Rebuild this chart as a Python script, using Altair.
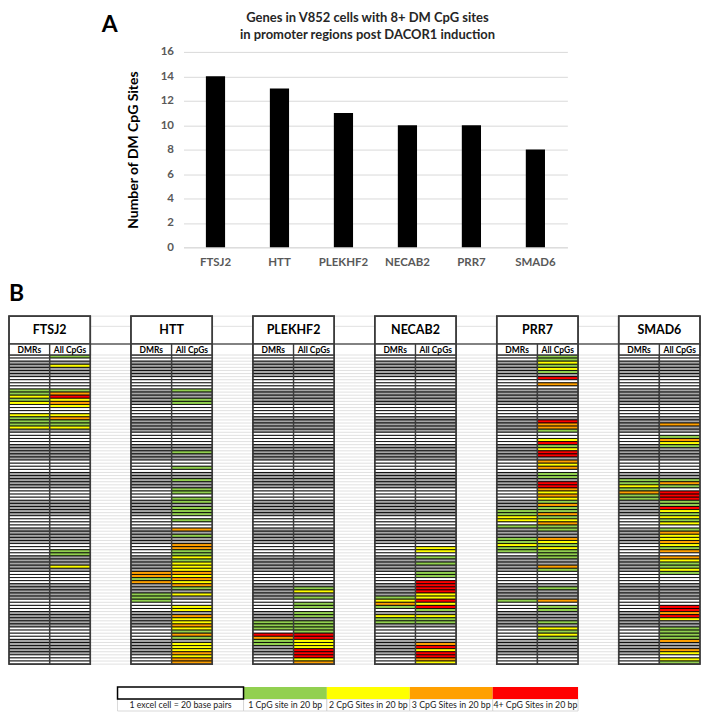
import altair as alt
import pandas as pd

FONT = "Lato"

# ---------------- Panel A data ----------------
genes = ["FTSJ2", "HTT", "PLEKHF2", "NECAB2", "PRR7", "SMAD6"]
dm_cpg_counts = [14, 13, 11, 10, 10, 8]
y_tick_values = [0, 2, 4, 6, 8, 10, 12, 14, 16]
title_lines = ["Genes in V852 cells with 8+ DM CpG sites",
               "in promoter regions post DACOR1 induction"]
y_title = "Number of DM CpG Sites"

# ---------------- Panel B data ----------------
n_rows = 100                      # 1 excel cell = 20 bp
column_labels = ["DMRs", "All CpGs"]
# rows shaded grey in the spreadsheet, [start, end)
grey_blocks = [(2, 7), (11, 16), (20, 25), (29, 34), (38, 43), (47, 52),
               (56, 61), (65, 70), (74, 79), (83, 88), (92, 97)]
# CpG sites per 20-bp cell (1, 2, 3, 4+) ; row -> level
cells_dmr = {
    "FTSJ2": {11: 1, 12: 1, 13: 2, 14: 1, 15: 2, 19: 2, 20: 1, 21: 1, 22: 1, 23: 2},
    "HTT": {70: 3, 71: 3, 72: 1, 73: 3, 77: 1, 78: 1, 79: 1},
    "PLEKHF2": {86: 1, 87: 1, 88: 1, 90: 4, 91: 3, 92: 1, 93: 1},
    "NECAB2": {78: 1, 79: 2, 80: 3, 81: 1, 84: 2, 85: 1, 86: 1},
    "PRR7": {50: 1, 51: 1, 52: 2, 53: 2, 55: 1, 59: 1, 60: 1, 61: 2, 62: 1, 63: 1, 79: 1},
    "SMAD6": {40: 1, 41: 1, 42: 2, 43: 1, 44: 3, 45: 1, 46: 1},
}
cells_all = {
    "FTSJ2": {0: 1, 3: 2, 11: 1, 12: 3, 13: 4, 14: 2, 15: 3, 16: 2, 19: 2, 20: 3,
              21: 1, 22: 1, 23: 2, 63: 1, 64: 1, 68: 2},
    "HTT": {11: 1, 14: 1, 15: 1, 31: 1, 36: 1, 40: 1, 43: 1, 44: 1, 46: 1, 47: 1,
            49: 1, 50: 1, 51: 1, 53: 1, 56: 3, 58: 1, 61: 3, 62: 3, 63: 1, 64: 1,
            65: 2, 66: 1, 67: 2, 68: 2, 69: 2, 70: 3, 71: 2, 72: 3, 73: 2, 74: 3,
            75: 1, 77: 2, 81: 2, 82: 2, 84: 3, 85: 2, 86: 2, 87: 3, 88: 2, 89: 1,
            90: 3, 91: 1, 93: 2, 94: 2, 95: 2, 96: 3, 97: 2, 98: 3, 99: 3},
    "PLEKHF2": {75: 1, 76: 2, 78: 1, 80: 1, 81: 1, 83: 1, 84: 1, 86: 1, 87: 1, 88: 1,
                89: 1, 90: 4, 91: 4, 92: 2, 93: 2, 94: 2, 95: 4, 96: 4, 97: 4, 98: 2, 99: 3},
    "NECAB2": {62: 2, 63: 2, 65: 1, 67: 1, 70: 1, 71: 1, 73: 4, 74: 4, 75: 4, 76: 4,
               77: 2, 78: 2, 79: 4, 80: 2, 81: 4, 82: 1, 84: 2, 85: 1, 86: 1, 93: 3,
               94: 4, 95: 2, 96: 4, 97: 4, 98: 3, 99: 2},
    "PRR7": {0: 1, 1: 1, 2: 2, 3: 1, 4: 2, 5: 1, 7: 4, 9: 3, 21: 4, 22: 3, 23: 3, 24: 1,
             27: 2, 28: 4, 29: 1, 30: 2, 31: 4, 32: 4, 34: 3, 35: 2, 36: 3, 38: 1, 39: 1,
             41: 4, 42: 4, 43: 3, 44: 2, 45: 3, 46: 2, 47: 1, 48: 3, 49: 1, 50: 1, 51: 3,
             52: 1, 53: 2, 54: 3, 55: 1, 56: 1, 59: 3, 60: 2, 61: 1, 62: 2, 63: 1, 64: 1,
             65: 1, 68: 3, 69: 1, 75: 1, 79: 3, 81: 1, 82: 1, 86: 1, 88: 2, 89: 1, 90: 2, 91: 1},
    "SMAD6": {22: 3, 26: 1, 27: 3, 28: 2, 29: 1, 40: 1, 41: 3, 42: 1, 44: 4, 45: 4, 46: 4,
              47: 1, 48: 1, 49: 4, 50: 2, 51: 1, 52: 2, 53: 1, 54: 2, 56: 1, 57: 3, 58: 2,
              59: 2, 60: 3, 61: 2, 62: 1, 63: 3, 65: 3, 66: 2, 67: 1, 68: 1, 69: 2, 70: 1,
              81: 4, 82: 4, 83: 3, 84: 4, 85: 2, 88: 1, 89: 1, 90: 1, 91: 1, 92: 3, 95: 3,
              96: 2, 98: 2, 99: 1},
}
legend_labels = ["1 excel cell = 20 base pairs", "1 CpG site in 20 bp",
                 "2 CpG Sites in 20 bp", "3 CpG Sites in 20 bp", "4+ CpG Sites in 20 bp"]
legend_levels = ["white", "1", "2", "3", "4"]

# ---------------- styling / layout ----------------
cat_domain = ["white", "grey", "1", "2", "3", "4"]
cat_colors = ["#ffffff", "#a6a6a6", "#92d050", "#ffff00", "#ffa000", "#ff0000"]
color_scale = alt.Scale(domain=cat_domain, range=cat_colors)
N_COLS = 17
HDR_TOP, SUB_TOP = -12.58, -3.55
LEG_TOP, LEG_MID, LEG_BOT = 107.4, 111.29, 115.16
LEG_EDGES = [2.67, 5.77, 7.82, 9.86, 11.9, 14.0]
W_B, H_B = 693, 396
W_A, H_A = 385, 196
SPACER_W = 80
BOX = "#3c3c3c"

# ================= Panel A =================
bar_df = pd.DataFrame({"gene": genes, "count": dm_cpg_counts})
bars = alt.Chart(bar_df).mark_bar(color="black").encode(
    x=alt.X("gene:N", sort=genes,
            scale=alt.Scale(paddingInner=0.7, paddingOuter=0.35),
            axis=alt.Axis(title=None, labelAngle=0, labelColor="#595959",
                          labelFontSize=11.5, labelFontWeight="bold", ticks=False,
                          domainColor="#d9d9d9", labelPadding=9, grid=False)),
    y=alt.Y("count:Q", scale=alt.Scale(domain=[0, 16], nice=False),
            axis=alt.Axis(values=y_tick_values, title=y_title, titleFontSize=14,
                          titleFontWeight="bold", titleColor="black", titlePadding=20,
                          labelColor="#595959", labelFontSize=11.5, labelFontWeight="bold",
                          ticks=False, domain=False, gridColor="#d9d9d9", labelPadding=10)),
)
title_df = pd.DataFrame({"t": title_lines})
title1 = alt.Chart(title_df.iloc[[0]]).mark_text(
    fontSize=13, fontWeight="bold", color="#262626").encode(
    text="t:N", x=alt.value(W_A / 2 - 8), y=alt.value(-34))
title2 = alt.Chart(title_df.iloc[[1]]).mark_text(
    fontSize=13, fontWeight="bold", color="#262626").encode(
    text="t:N", x=alt.value(W_A / 2 - 8), y=alt.value(-17))
letter_a = alt.Chart(pd.DataFrame({"t": ["A"]})).mark_text(
    fontSize=23, fontWeight="bold", color="black").encode(
    text="t:N", x=alt.value(-74), y=alt.value(-27))
frame_a = alt.Chart(pd.DataFrame({"t": [0]})).mark_rule(opacity=0).encode(
    x=alt.value(-95), x2=alt.value(0), y=alt.value(-43))
frame_a2 = alt.Chart(pd.DataFrame({"t": [0]})).mark_rule(opacity=0).encode(
    x=alt.value(0), x2=alt.value(10), y=alt.value(H_A + 24))
panel_a = alt.layer(frame_a, frame_a2, bars, title1, title2, letter_a).properties(
    width=W_A, height=H_A)

spacer = alt.Chart(pd.DataFrame({"t": [0]})).mark_rule(opacity=0).encode(
    x=alt.value(0), x2=alt.value(SPACER_W), y=alt.value(0)).properties(
    width=SPACER_W, height=10)
top_row = alt.hconcat(spacer, panel_a, spacing=0)

# ================= Panel B =================
def is_grey(r):
    return any(a <= r < b for a, b in grey_blocks)

cell_rows = []
for g, gene in enumerate(genes):
    for k, src in enumerate([cells_dmr, cells_all]):
        for r in range(n_rows):
            lvl = src[gene].get(r, 0)
            cat = str(lvl) if lvl else ("grey" if is_grey(r) else "white")
            cell_rows.append(dict(x=3 * g + k, x2=3 * g + k + 1, y=r, y2=r + 1, cat=cat))
cell_df = pd.DataFrame(cell_rows)

xs = alt.Scale(domain=[0, N_COLS], nice=False, zero=False)
ys = alt.Scale(domain=[HDR_TOP, LEG_BOT], nice=False, zero=False, reverse=True)
X = lambda f: alt.X(f, type="quantitative", scale=xs, axis=None)
Y = lambda f: alt.Y(f, type="quantitative", scale=ys, axis=None)

grid_df = pd.DataFrame({"x": [0] * (n_rows + 1), "x2": [N_COLS] * (n_rows + 1),
                        "y": list(range(n_rows + 1))})
bg_grid = alt.Chart(grid_df).mark_rule(color="#d9d9d9", strokeWidth=0.8).encode(
    x=X("x"), x2="x2", y=Y("y"))
hdr_grid_df = pd.DataFrame({"x": [0, 0], "x2": [N_COLS, N_COLS], "y": [HDR_TOP, HDR_TOP + 3.3]})
hdr_grid = alt.Chart(hdr_grid_df).mark_rule(color="#d9d9d9", strokeWidth=0.8).encode(
    x=X("x"), x2="x2", y=Y("y"))

cells = alt.Chart(cell_df).mark_rect(stroke="black", strokeWidth=0.85).encode(
    x=X("x"), x2="x2", y=Y("y"), y2="y2",
    fill=alt.Fill("cat:N", scale=color_scale, legend=None))

box_df = pd.DataFrame({"gene": genes,
                       "x": [3 * g for g in range(len(genes))],
                       "x2": [3 * g + 2 for g in range(len(genes))],
                       "xm": [3 * g + 1 for g in range(len(genes))],
                       "top": HDR_TOP, "sub": SUB_TOP, "g0": 0, "bot": n_rows})
wide_line_df = pd.DataFrame({"x": [0], "x2": [N_COLS], "y": [SUB_TOP]})
wide_line = alt.Chart(wide_line_df).mark_rule(color="#595959", strokeWidth=1.5).encode(
    x=X("x"), x2="x2", y=Y("y"))
name_box = alt.Chart(box_df).mark_rect(fill="white", stroke=BOX, strokeWidth=1.5).encode(
    x=X("x"), x2="x2", y=Y("top"), y2="sub")
sub_box = alt.Chart(box_df).mark_rect(fill="white", stroke=BOX, strokeWidth=1.5).encode(
    x=X("x"), x2="x2", y=Y("sub"), y2="g0")
outer_box = alt.Chart(box_df).mark_rect(fill=None, stroke=BOX, strokeWidth=1.6).encode(
    x=X("x"), x2="x2", y=Y("top"), y2="bot")
divider = alt.Chart(box_df).mark_rule(color=BOX, strokeWidth=1.4).encode(
    x=X("xm"), y=Y("sub"), y2="bot")
gene_text = alt.Chart(box_df.assign(ty=(HDR_TOP + SUB_TOP) / 2)).mark_text(
    fontSize=12.5, fontWeight="bold", color="black").encode(
    x=X("xm"), y=Y("ty"), text="gene:N")

sub_rows = []
for g in range(len(genes)):
    for k, lab in enumerate(column_labels):
        sub_rows.append(dict(x=3 * g + k + 0.5, y=SUB_TOP / 2, t=lab))
sub_text = alt.Chart(pd.DataFrame(sub_rows)).mark_text(
    fontSize=8.5, fontWeight="bold", color="black").encode(
    x=X("x"), y=Y("y"), text="t:N")

leg_df = pd.DataFrame({"label": legend_labels, "cat": legend_levels,
                       "x": LEG_EDGES[:-1], "x2": LEG_EDGES[1:],
                       "y": LEG_TOP, "ym": LEG_MID, "yb": LEG_BOT})
leg_df["xm"] = (leg_df["x"] + leg_df["x2"]) / 2
leg_df["yt"] = (LEG_MID + LEG_BOT) / 2
leg_cells = alt.Chart(leg_df).mark_rect(stroke="#cfcfcf", strokeWidth=0.8, fill="white").encode(
    x=X("x"), x2="x2", y=Y("ym"), y2="yb")
leg_colors = alt.Chart(leg_df.iloc[1:]).mark_rect().encode(
    x=X("x"), x2="x2", y=Y("y"), y2="ym",
    fill=alt.Fill("cat:N", scale=color_scale, legend=None))
leg_white = alt.Chart(leg_df.iloc[[0]]).mark_rect(fill="white", stroke="black", strokeWidth=1.5).encode(
    x=X("x"), x2="x2", y=Y("y"), y2="ym")
leg_text = alt.Chart(leg_df).mark_text(fontSize=8.8, color="#1a1a1a").encode(
    x=X("xm"), y=Y("yt"), text="label:N")

letter_b = alt.Chart(pd.DataFrame({"t": ["B"]})).mark_text(
    fontSize=23, fontWeight="bold", color="black", align="left").encode(
    text="t:N", x=alt.value(0), y=alt.value(-22))
frame_b = alt.Chart(pd.DataFrame({"t": [0]})).mark_rule(opacity=0).encode(
    x=alt.value(0), x2=alt.value(10), y=alt.value(-35))

panel_b = alt.layer(frame_b, bg_grid, hdr_grid, wide_line, cells, name_box, sub_box,
                    outer_box, divider, gene_text, sub_text, leg_cells, leg_colors,
                    leg_white, leg_text, letter_b).properties(width=W_B, height=H_B)

chart = alt.vconcat(top_row, panel_b, spacing=10, padding=0).configure(
    font=FONT).configure_view(strokeWidth=0, stroke="transparent")

chart.save("out.html", embed_options={"renderer": "svg", "actions": False})
